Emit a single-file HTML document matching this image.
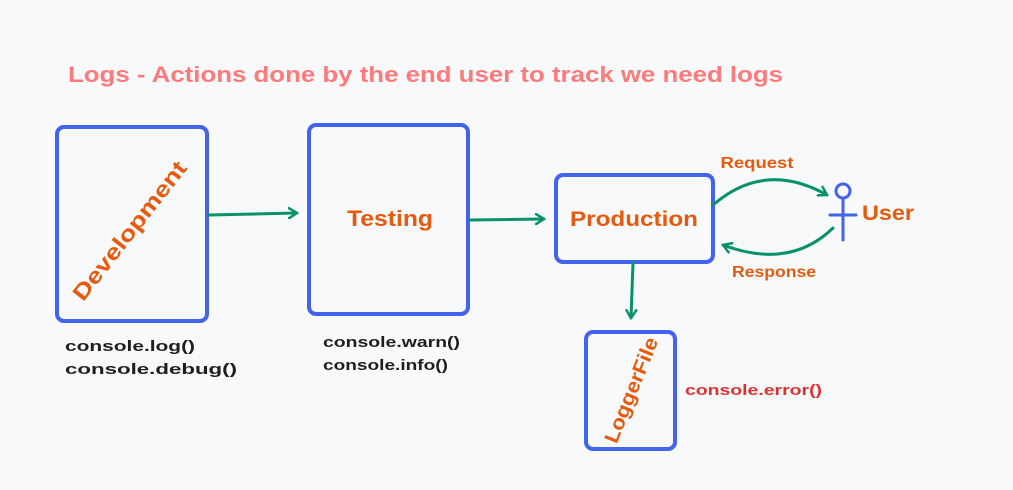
<!DOCTYPE html>
<html><head><meta charset="utf-8"><style>
html,body{margin:0;padding:0;background:#f8f9fb;}
svg{display:block;font-family:"Liberation Sans",sans-serif;}
</style></head><body>
<svg width="1013" height="490" viewBox="0 0 1013 490" xmlns="http://www.w3.org/2000/svg">
<rect width="1013" height="490" fill="#f8f9fb"/>
<defs><marker id="a" markerWidth="12" markerHeight="12" refX="9" refY="6" orient="auto" markerUnits="userSpaceOnUse">
<path d="M1,1 L9,6 L1,11" fill="none" stroke="#099268" stroke-width="2.5" stroke-linecap="round" stroke-linejoin="round"/></marker></defs>
<text x="68" y="82" font-size="22" font-weight="bold" fill="#ff7a7a" textLength="715" lengthAdjust="spacingAndGlyphs">Logs - Actions done by the end user to track we need logs</text>
<g fill="none" stroke="#4263eb" stroke-width="4">
<rect x="57" y="127" width="150" height="194" rx="7"/>
<rect x="309" y="125" width="159" height="189" rx="7"/>
<rect x="556" y="175" width="157" height="87" rx="7"/>
<rect x="586" y="332" width="89" height="117" rx="7"/>
</g>
<g fill="#e8590c" font-weight="bold" text-anchor="middle">
<text x="130" y="238" font-size="22" transform="rotate(-52 130 231)" textLength="170" lengthAdjust="spacingAndGlyphs">Development</text>
<text x="390" y="226" font-size="22" textLength="86" lengthAdjust="spacingAndGlyphs">Testing</text>
<text x="634" y="226" font-size="21" textLength="128" lengthAdjust="spacingAndGlyphs">Production</text>
<text x="631" y="397" font-size="20" transform="rotate(-68 631 390)" textLength="112" lengthAdjust="spacingAndGlyphs">LoggerFile</text>
<text x="757" y="168" font-size="16" textLength="73" lengthAdjust="spacingAndGlyphs">Request</text>
<text x="774" y="277" font-size="16" textLength="84" lengthAdjust="spacingAndGlyphs">Response</text>
<text x="888" y="220" font-size="21" textLength="52" lengthAdjust="spacingAndGlyphs">User</text>
</g>
<g fill="none" stroke="#099268" stroke-width="3" stroke-linecap="round">
<path d="M209 215 L297 213" marker-end="url(#a)"/>
<path d="M470 220 L544 219" marker-end="url(#a)"/>
<path d="M633 263 L631 318" marker-end="url(#a)"/>
<path d="M713 205 Q765 160 827 195" marker-end="url(#a)"/>
<path d="M833 228 Q790 270 723 245" marker-end="url(#a)"/>
</g>
<g fill="none" stroke="#4263eb" stroke-width="3" stroke-linecap="round">
<circle cx="843" cy="191" r="7"/>
<path d="M843 198 L843 240 M830 215 L856 215"/>
</g>
<g fill="#1e1e1e" font-size="15" font-weight="bold" lengthAdjust="spacingAndGlyphs">
<text x="65" y="351" textLength="130" lengthAdjust="spacingAndGlyphs">console.log()</text>
<text x="65" y="374" textLength="172" lengthAdjust="spacingAndGlyphs">console.debug()</text>
<text x="323" y="347" textLength="137" lengthAdjust="spacingAndGlyphs">console.warn()</text>
<text x="323" y="370" textLength="125" lengthAdjust="spacingAndGlyphs">console.info()</text>
</g>
<text x="685" y="395" font-size="15" font-weight="bold" fill="#e03131" textLength="137" lengthAdjust="spacingAndGlyphs">console.error()</text>
</svg>
</body></html>
